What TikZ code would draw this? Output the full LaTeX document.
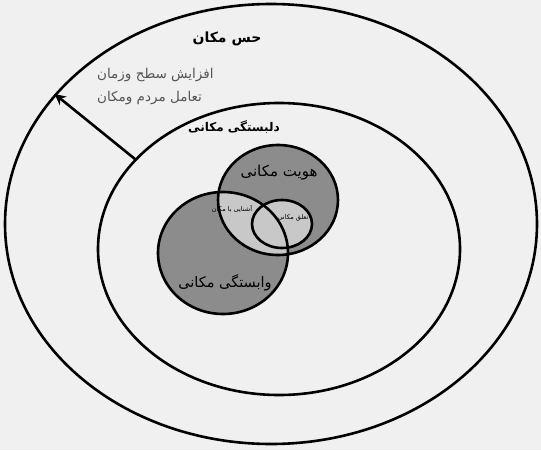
\documentclass[tikz,border=0pt]{standalone}
\usepackage{fontspec}
\newfontfamily\arabicfont[Script=Arabic]{DejaVu Sans}
\TeXXeTstate=1
\usetikzlibrary{shapes.geometric, arrows.meta}
\definecolor{bggray}{RGB}{240,240,240}
\definecolor{darkfill}{RGB}{140,140,140}
\definecolor{lightfill}{RGB}{200,200,200}
\definecolor{notegray}{RGB}{85,85,85}
\newcommand{\fa}[1]{\beginR #1\endR}

\begin{document}
\begin{tikzpicture}[x=1pt, y=-1pt,
  ring/.style={draw, ellipse, line width=2.6pt, inner sep=0pt},
  fatext/.style={font=\arabicfont\fontsize{14.5}{16}\selectfont, inner sep=0pt}]
 \useasboundingbox[fill=bggray] (0,0) rectangle (541,450);
 % outer rings
 \node[ring, minimum width=532pt, minimum height=440pt] (outer) at (271,224){};
 \node[ring, minimum width=362pt, minimum height=292pt] (mid) at (279,249){};
 % the two overlapping circles
 \node[ellipse, fill=darkfill, minimum width=120pt, minimum height=110pt, inner sep=0pt] (hovit) at (278,200){};
 \node[ellipse, fill=darkfill, minimum width=130pt, minimum height=122pt, inner sep=0pt] (vabast) at (223,253){};
 \begin{scope}
  \clip (223,253) ellipse [x radius=65pt, y radius=61pt];
  \fill[lightfill] (278,200) ellipse [x radius=60pt, y radius=55pt];
 \end{scope}
 \node[ring, fill=lightfill, minimum width=60pt, minimum height=48pt] (taalogh) at (282,224){};
 \node[ring, minimum width=120pt, minimum height=110pt] at (hovit){};
 \node[ring, minimum width=130pt, minimum height=122pt] at (vabast){};
 \draw[-{Stealth[length=11pt, width=11pt]}, line width=2.6pt] (mid.148) -- (outer.149);
 % labels
 \node[fatext, font=\arabicfont\bfseries\fontsize{14}{16}\selectfont] (hes) at (227,39){\fa{حس مکان}};
 \node[fatext, text=notegray, font=\arabicfont\fontsize{13.5}{15}\selectfont, anchor=west] (note1) at (97,75){\fa{افزایش سطح وزمان}};
 \node[fatext, text=notegray, font=\arabicfont\fontsize{13.5}{15}\selectfont, anchor=west] (note2) at (97,98){\fa{تعامل مردم ومکان}};
 \node[fatext, font=\arabicfont\bfseries\fontsize{12}{14}\selectfont] (delbast) at (234,127){\fa{دلبستگی مکانی}};
 \node[fatext, font=\arabicfont\fontsize{15}{17}\selectfont] (hovittext) at (279,173){\fa{هویت مکانی}};
 \node[fatext, font=\arabicfont\fontsize{6.5}{8}\selectfont] (ashna) at (232,209){\fa{آشنایی با مکان}};
 \node[fatext, font=\arabicfont\fontsize{6.5}{8}\selectfont] (taalotext) at (293,218){\fa{تعلق مکانی}};
 \node[fatext] (vabasttext) at (225,283){\fa{وابستگی مکانی}};
\end{tikzpicture}
\end{document}
